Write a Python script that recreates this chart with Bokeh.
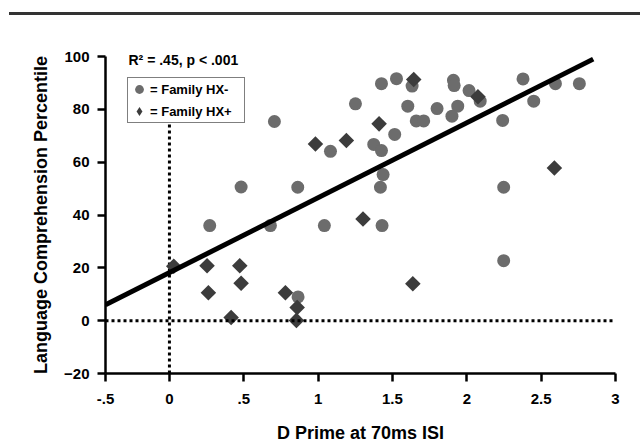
import math
from bokeh.plotting import figure
from bokeh.models import (Range1d, FixedTicker, Span, Title, Legend, LegendItem, Div)
from bokeh.layouts import column
from bokeh.embed import file_html
from bokeh.resources import INLINE

# ---- data ----
hx_neg_x = [0.706, 1.426, 1.527, 1.632, 1.910, 1.915, 2.378, 2.596, 2.757, 2.015,
            2.09, 1.251, 1.603, 1.80, 1.939, 1.90, 1.66, 1.71, 2.45, 2.241,
            1.515, 1.083, 1.374, 1.426, 1.437, 1.419, 0.863, 0.482, 2.248, 1.042,
            1.43, 0.271, 0.679, 2.248, 0.865]
hx_neg_y = [75.4, 89.7, 91.6, 88.8, 91.0, 89.0, 91.5, 89.7, 89.7, 87.1,
            83.1, 82.1, 81.2, 80.3, 81.2, 77.4, 75.6, 75.6, 83.1, 75.8,
            70.5, 64.1, 66.7, 64.4, 55.3, 50.5, 50.5, 50.6, 50.5, 36.0,
            36.0, 36.0, 36.0, 22.7, 9.0]

hx_pos_x = [1.643, 2.075, 1.41, 0.982, 1.19, 2.589, 1.302, 0.029, 0.253, 0.473,
            0.482, 0.262, 0.78, 0.859, 0.415, 0.854, 1.637]
hx_pos_y = [91.3, 84.8, 74.5, 66.9, 68.2, 57.8, 38.5, 20.6, 20.8, 20.8,
            14.2, 10.6, 10.6, 5.0, 1.2, 0.1, 14.0]

fit_x = [-0.43, 2.85]
fit_y = [6.0, 99.0]

ref_x0 = 0.0
ref_y0 = 0.0
ref_seg_y = [-20.0, 75.0]

x_ticks = [-0.43, 0, 0.5, 1, 1.5, 2, 2.5, 3]
x_tick_labels = ["-.5", "0", ".5", "1", "1.5", "2", "2.5", "3"]
y_ticks = [-20, 0, 20, 40, 60, 80, 100]

stat_text = "R\u00b2 = .45, p < .001"
legend_labels = ["= Family HX-", "= Family HX+"]
x_title = "D Prime at 70ms ISI"
y_title = "Language Comprehension Percentile"

FONT = "Liberation Sans"
CIRCLE_COLOR = "#6c6c6c"
DIAMOND_COLOR = "#3c3c3c"

p = figure(width=640, height=432, output_backend="svg", toolbar_location=None,
           x_range=Range1d(-0.43, 3.0), y_range=Range1d(-20, 100),
           min_border_left=105, min_border_right=25, min_border_top=41,
           min_border_bottom=74)
p.outline_line_color = None
p.grid.visible = False
p.background_fill_color = "white"
p.border_fill_color = "white"

# axes
for ax in (p.xaxis[0], p.yaxis[0]):
    ax.axis_line_width = 2.5
    ax.axis_line_color = "black"
    ax.major_tick_line_width = 2.5
    ax.major_tick_line_color = "black"
    ax.major_tick_in = 0
    ax.major_tick_out = 8
    ax.minor_tick_line_color = None
    ax.major_label_text_font = FONT
    ax.major_label_text_font_style = "bold"
    ax.major_label_text_font_size = "15px"
    ax.major_label_text_color = "black"
    ax.axis_label_text_font = FONT
    ax.axis_label_text_font_style = "bold"
    ax.axis_label_text_font_size = "18px"
    ax.axis_label_text_color = "black"

p.xaxis.ticker = FixedTicker(ticks=x_ticks)
p.xaxis.major_label_overrides = {t: l for t, l in zip(x_ticks, x_tick_labels)}
p.yaxis.ticker = FixedTicker(ticks=y_ticks)
p.xaxis.axis_label = x_title
p.yaxis.axis_label = y_title
p.xaxis.major_label_standoff = 12
p.yaxis.major_label_standoff = 8
p.xaxis.axis_label_standoff = 16
p.yaxis.axis_label_standoff = 10

# dotted reference lines
p.add_layout(Span(location=ref_y0, dimension="width", line_color="black",
                  line_width=3, line_dash="3 3"))
p.segment(x0=[ref_x0], y0=[ref_seg_y[0]], x1=[ref_x0], y1=[ref_seg_y[1]],
          line_color="black", line_width=3, line_dash="3 3")

# points
r_neg = p.scatter(hx_neg_x, hx_neg_y, marker="circle", size=13,
                  fill_color=CIRCLE_COLOR, line_color=None)
# diamond key for the legend (legend keys are drawn unrotated); hidden under
# the rotated squares drawn right after it
r_pos_key = p.scatter(hx_pos_x, hx_pos_y, marker="diamond", size=11,
                      fill_color=DIAMOND_COLOR, line_color=None)
r_pos = p.scatter(hx_pos_x, hx_pos_y, marker="square", size=11, angle=math.pi / 4,
                  fill_color=DIAMOND_COLOR, line_color=None)

# regression line
p.line(fit_x, fit_y, line_color="black", line_width=5)

# statistic text (as a title so it is not clipped by the frame)
p.add_layout(Title(text=stat_text, align="left", offset=23, standoff=-22,
                   text_font=FONT, text_font_style="bold", text_font_size="14px",
                   text_color="black"), "above")

legend = Legend(items=[LegendItem(label=legend_labels[0], renderers=[r_neg]),
                       LegendItem(label=legend_labels[1], renderers=[r_pos_key])],
                location=(22, 250), orientation="vertical",
                glyph_width=22, glyph_height=22, label_standoff=0, spacing=0,
                padding=0, margin=0, label_width=94, label_height=16,
                label_text_font=FONT, label_text_font_style="bold",
                label_text_font_size="13px", label_text_color="black",
                border_line_color="black", border_line_width=1.5,
                background_fill_color="white", background_fill_alpha=1.0)
p.add_layout(legend)

top_rule = Div(text="", width=631, height=15, margin=(0, 0, 0, 9),
               styles={"border-bottom": "3px solid #333333"})

layout = column(top_rule, p, spacing=0)

open("out.html", "w").write(file_html(layout, INLINE))
